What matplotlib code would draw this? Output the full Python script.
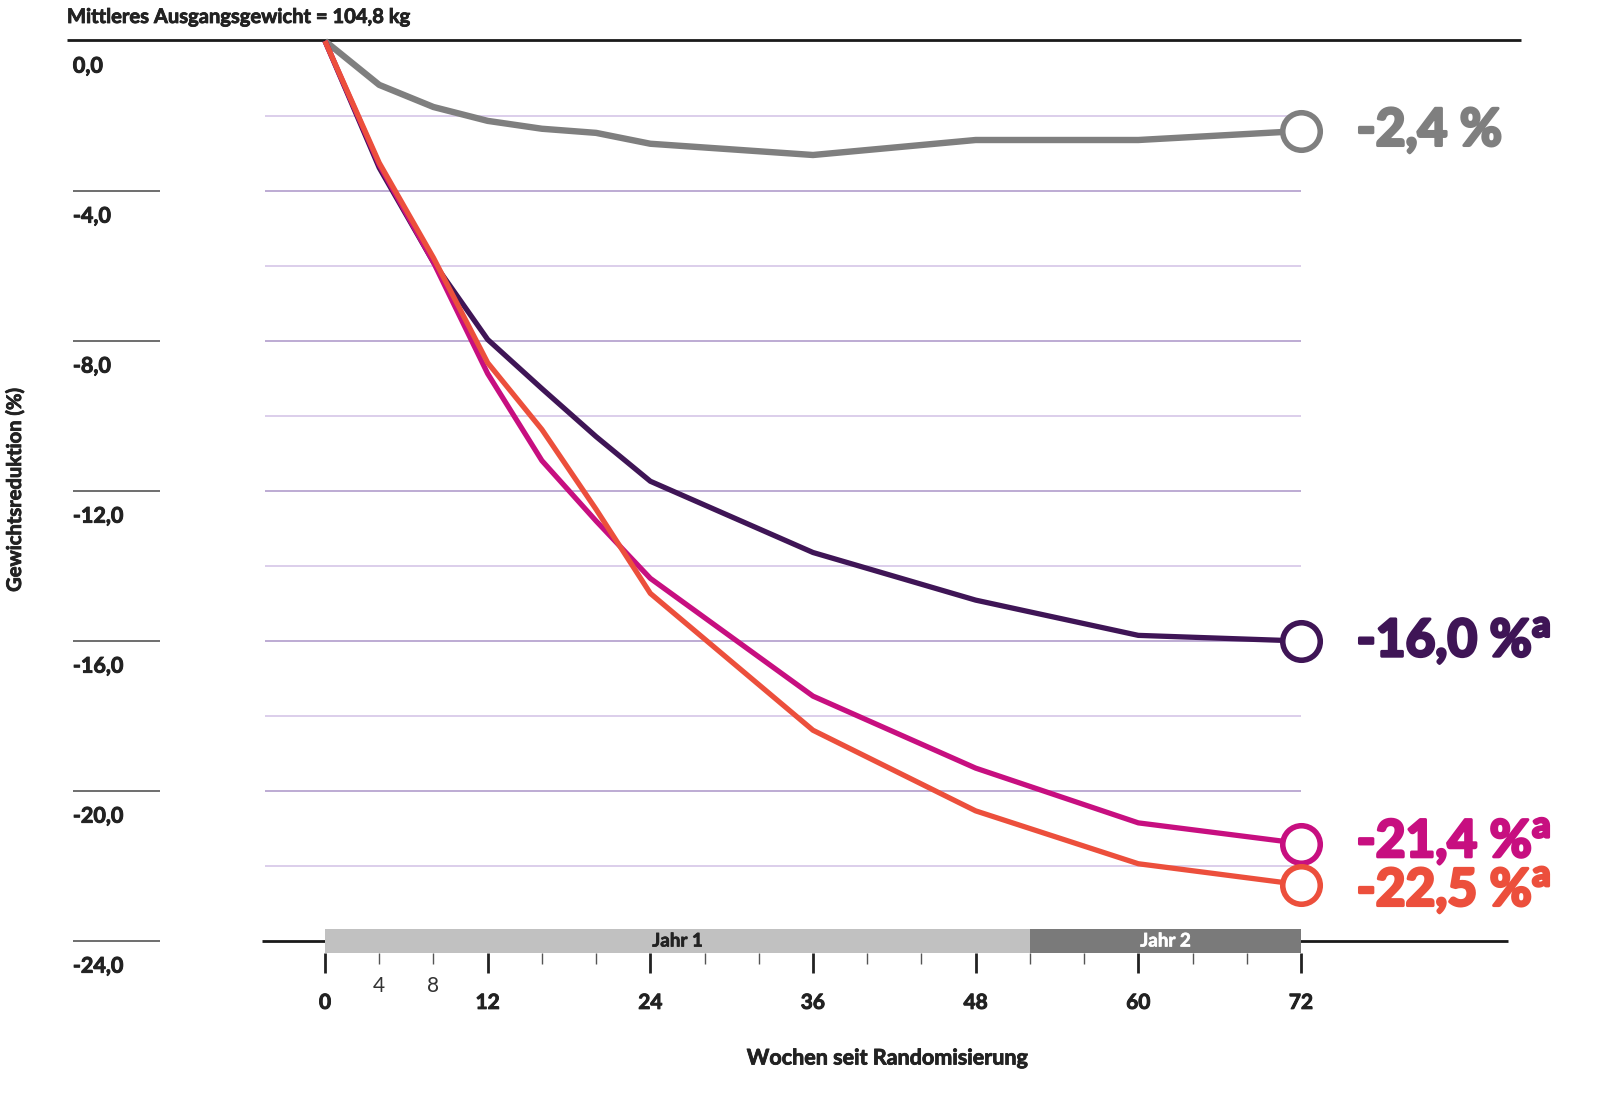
import numpy as np
import matplotlib
matplotlib.use("Agg")
import matplotlib.pyplot as plt
import matplotlib.patheffects as pe

plt.rcParams["font.family"] = ["Lato", "DejaVu Sans"]

# data
weeks = [0, 4, 8, 12, 16, 20, 24, 36, 48, 60, 72]
placebo = [0.0, -1.17, -1.76, -2.13, -2.34, -2.45, -2.74, -3.04, -2.64, -2.64, -2.4]
dose_5 = [0.0, -3.38, -5.9, -7.96, -9.27, -10.55, -11.74, -13.64, -14.91, -15.85, -16.0]
dose_10 = [0.0, -3.3, -5.9, -8.87, -11.19, -12.8, -14.33, -17.47, -19.39, -20.85, -21.4]
dose_15 = [0.0, -3.25, -5.78, -8.58, -10.36, -12.49, -14.73, -18.38, -20.53, -21.94, -22.5]

end_labels = ["-2,4 %", "-16,0 %", "-21,4 %", "-22,5 %"]
superscript = [False, True, True, True]
label_dy = [0.0, 0.0, 0.05, -0.15]

y_ticks = [0, -4, -8, -12, -16, -20, -24]
y_tick_labels = ["0,0", "-4,0", "-8,0", "-12,0", "-16,0", "-20,0", "-24,0"]
x_major = [0, 12, 24, 36, 48, 60, 72]
x_small_labels = [4, 8]
years = ["Jahr 1", "Jahr 2"]
year_start = [0, 52]
year_len = [52, 20]

colors = ["#7f7f7f", "#3f1556", "#c70f80", "#ec4f3c"]
widths = [4.6, 3.8, 3.8, 3.8]


def heavy(color, w=0.7):
    # thicken the glyphs a little, the source font is heavier than Lato Bold
    return [pe.withStroke(linewidth=w, foreground=color)]


fig = plt.figure(figsize=(16, 11), dpi=100)
ax = fig.add_axes([325 / 1600, 1 - 941 / 1100, 976 / 1600, 900 / 1100])
ax.set_xlim(0, 72)
ax.set_ylim(-24, 0)
ax.axis("off")

# grid lines
grid_y = np.arange(-2, -24, -2)
for gy in grid_y:
    c = "#b29dcc" if gy % 4 == 0 else "#d6c6e8"
    ax.hlines(gy, -4.4, 72, color=c, lw=1.2, zorder=1, clip_on=False)

# left tick stubs and labels
for yt, lab in zip(y_ticks, y_tick_labels):
    if yt != 0:
        ax.hlines(yt, -18.6, -12.2, color="#555555", lw=1.2, clip_on=False)
    ax.text(-18.6, yt - 0.67, lab, fontsize=15.5, fontweight="bold",
            color="#222222", ha="left", va="center", clip_on=False,
            path_effects=heavy("#222222"))

# top and bottom black lines
ax.hlines(0.03, -19.0, 88.2, color="#1a1a1a", lw=2, clip_on=False, zorder=2)
ax.hlines(-24, -4.65, 87.3, color="#1a1a1a", lw=2, clip_on=False, zorder=2)

# year bars
bar_colors = ["#c1c1c1", "#7a7a7a"]
text_colors = ["#222222", "white"]
ax.barh([-24, -24], year_len, left=year_start, height=0.64,
        color=bar_colors, zorder=3, clip_on=False)
for name, s, l, tc in zip(years, year_start, year_len, text_colors):
    ax.text(s + l / 2, -24, name, ha="center", va="center", fontsize=13.5,
            fontweight="bold", color=tc, zorder=4, clip_on=False,
            path_effects=heavy(tc, 0.5))

# x ticks
for w in range(0, 73, 4):
    if w in x_major:
        ax.vlines(w, -24.32, -24.85, color="#222222", lw=2, clip_on=False)
    else:
        ax.vlines(w, -24.32, -24.6, color="#555555", lw=1, clip_on=False)
for w in x_major:
    ax.text(w, -25.65, str(w), ha="center", va="center", fontsize=15,
            fontweight="bold", color="#222222", clip_on=False,
            path_effects=heavy("#222222"))
for w in x_small_labels:
    ax.text(w, -25.2, str(w), ha="center", va="center", fontsize=15,
            fontweight="normal", color="#333333", clip_on=False)

# series
series = [placebo, dose_5, dose_10, dose_15]
for vals, c, lw, lab, sup, dy in zip(series, colors, widths, end_labels,
                                      superscript, label_dy):
    ax.plot(weeks, vals, color=c, lw=lw, zorder=5, clip_on=False,
            solid_capstyle="butt")
    ax.plot(weeks[-1], vals[-1], "o", ms=27, mfc="white", mec=c, mew=4,
            zorder=6, clip_on=False)
    txt = lab + ("$^{\\mathregular{a}}$" if sup else "")
    ax.text(76.1, vals[-1] + dy, txt, fontsize=37, fontweight="bold",
            color=c, ha="left", va="center", zorder=6, clip_on=False,
            path_effects=heavy(c, 2.2))

fig.text(67 / 1600, 1 - 17 / 1100, "Mittleres Ausgangsgewicht = 104,8 kg",
         fontsize=14.5, fontweight="bold", color="#222222", ha="left",
         va="center", path_effects=heavy("#222222", 0.6))
fig.text(887 / 1600, 1 - 1058 / 1100, "Wochen seit Randomisierung",
         fontsize=15.5, fontweight="bold", color="#222222", ha="center",
         va="center", path_effects=heavy("#222222", 0.6))
fig.text(15 / 1600, 1 - 490 / 1100, "Gewichtsreduktion (%)", rotation=90,
         fontsize=14.5, fontweight="bold", color="#222222", ha="center",
         va="center", path_effects=heavy("#222222", 0.6))

fig.savefig("out.png", dpi=100)
